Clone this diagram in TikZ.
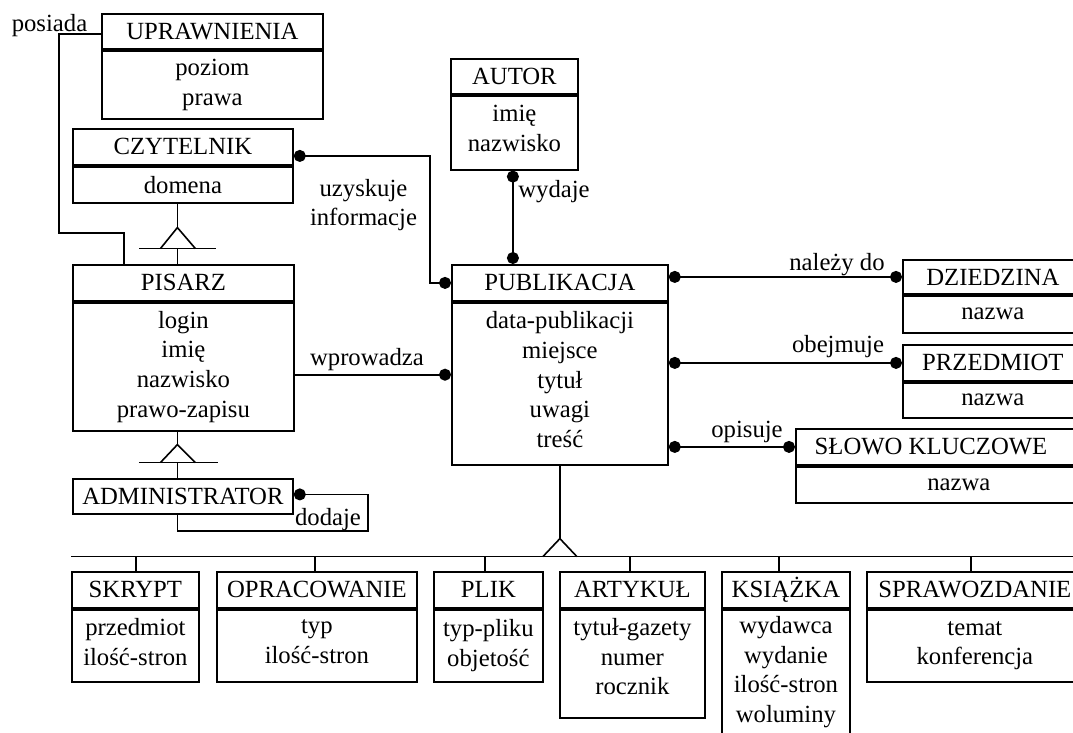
\documentclass[tikz,border=0pt]{standalone}
\usepackage{fontspec}
\setmainfont{Liberation Serif}
\usetikzlibrary{arrows.meta}
\newcommand\erfont{\fontsize{24.7}{29.7}\selectfont}
% entity: #1 name, #2 x, #3 y, #4 width, #5 header height, #6 body height,
% #7 title, #8 attributes, #9 lift of the attribute block
\newcommand\erbox[9]{%
  \node[ent, minimum width=#4pt, minimum height=#5pt] (#1h) at (#2,#3) {#7};
  \node[ent, minimum width=#4pt, minimum height=#6pt] (#1b) at (#1h.south west) {};
  \node[lbl] (#1t) at ([yshift=#9pt]#1b.center) {#8};
}
\begin{document}
\begin{tikzpicture}[x=1pt,y=-1pt,
  ent/.style={draw, line width=1.8pt, anchor=north west, inner sep=0pt, align=center, font=\erfont},
  rel/.style={line width=1.6pt},
  lbl/.style={font=\erfont, inner sep=0pt, align=center},
  bothdots/.style={{Circle[length=12pt]}-{Circle[length=12pt]}},
  enddot/.style={-{Circle[length=12pt]}},
  startdot/.style={{Circle[length=12pt]}-},
]
\useasboundingbox (0,0) rectangle (1073,732);
\clip (0,0) rectangle (1073,732);
\fill[white] (0,0) rectangle (1073,732);

% ---- entities ----
\erbox{upr}{101}{13}{221}{35}{68}{UPRAWNIENIA}{poziom\\prawa}{0}
\erbox{czy}{72}{128}{220}{36}{36}{CZYTELNIK}{domena}{0}
\erbox{pis}{72}{264}{221}{36}{128}{PISARZ}{login\\imię\\nazwisko\\prawo-zapisu}{0}
\node[ent, minimum width=220pt, minimum height=35pt] (adm) at (72,478) {ADMINISTRATOR};
\erbox{aut}{450}{58}{127}{35}{74}{AUTOR}{imię\\nazwisko}{4}
\erbox{pub}{451}{264}{216}{36}{162}{PUBLIKACJA}{data-publikacji\\miejsce\\tytuł\\uwagi\\treść}{4}
\erbox{dz}{902}{259}{180}{34}{37}{DZIEDZINA}{nazwa}{0}
\erbox{prz}{902}{344}{180}{36}{35}{PRZEDMIOT}{nazwa}{0}
\erbox{sk}{795}{428}{326}{36}{36}{}{nazwa}{0}
\node[lbl] (skname) at (931,446) {SŁOWO KLUCZOWE};

% subtypes of PUBLIKACJA
\erbox{skr}{71}{571}{127}{36}{72}{SKRYPT}{przedmiot\\ilość-stron}{4}
\erbox{opr}{216}{571}{200}{36}{72}{OPRACOWANIE}{typ\\ilość-stron}{4}
\erbox{plik}{433}{571}{109}{36}{72}{PLIK}{typ-pliku\\objetość}{0}
\erbox{art}{559}{571}{145}{36}{108}{ARTYKUŁ}{tytuł-gazety\\numer\\rocznik}{7}
\erbox{ksi}{721}{571}{128}{36}{133}{KSIĄŻKA}{wydawca\\wydanie\\ilość-stron\\woluminy}{4}
\erbox{spr}{866}{571}{216}{36}{72}{SPRAWOZDANIE}{temat\\konferencja}{0}

% ---- relationships ----
% posiada
\draw[rel] ([yshift=-2.5pt]uprh.west) -| (59,233) -| ([xshift=-59.5pt]pish.north);
\node[lbl, anchor=base] (lpos) at (49.5,31) {posiada};

% uzyskuje informacje
\draw[rel, bothdots] ([yshift=-9pt]czyh.east) -| ([xshift=-21pt]pubh.west) -- (pubh.west);
\node[lbl] (luzy) at (363.5,205) {uzyskuje\\informacje};

% wydaje
\coordinate (wyd) at ([xshift=-1.5pt]autb.south);
\draw[rel, bothdots] (wyd) -- (wyd |- pubh.north);
\node[lbl, anchor=base] (lwyd) at (554,197) {wydaje};

% wprowadza
\coordinate (wpr) at ([yshift=-8pt]pisb.east);
\draw[rel, enddot] (wpr) -- (wpr -| pubb.west);
\node[lbl, anchor=base] (lwpr) at (367,365) {wprowadza};

% należy do / obejmuje / opisuje
\draw[rel, bothdots] (pubh.east |- dzh.west) -- (dzh.west);
\node[lbl, anchor=base] (lnal) at (837,270) {należy do};
\draw[rel, bothdots] (pubb.east |- przh.west) -- (przh.west);
\node[lbl, anchor=base] (lobe) at (838,352) {obejmuje};
\draw[rel, bothdots] (pubb.east |- skh.west) -- (skh.west);
\node[lbl, anchor=base] (lopi) at (747,437) {opisuje};

% dodaje (recursive)
\draw[rel, startdot] ([yshift=2pt]adm.east) -| (368,531) -| ([xshift=-5.5pt]adm.south);
\node[lbl, anchor=base] (ldod) at (328,525) {dodaje};

% ---- generalisations ----
% CZYTELNIK <- PISARZ
\draw[rel] ([xshift=-5.5pt]czyb.south) -- ++(0,24) coordinate (g1a);
\draw[rel] ([shift={(-17,21)}]g1a) -- (g1a) -- ([shift={(18,21)}]g1a);
\draw[rel] ([shift={(-38,21)}]g1a) -- ([shift={(39,21)}]g1a);
\draw[rel] ([shift={(0,21)}]g1a) -- ([xshift=-6pt]pish.north);

% PISARZ <- ADMINISTRATOR
\draw[rel] ([xshift=-6pt]pisb.south) -- ++(0,13) coordinate (g2a);
\draw[rel] ([shift={(-17,18)}]g2a) -- (g2a) -- ([shift={(18,18)}]g2a);
\draw[rel] ([shift={(-38.5,18)}]g2a) -- ([shift={(40.5,18)}]g2a);
\draw[rel] ([shift={(0,18)}]g2a) -- ([xshift=-5.5pt]adm.north);

% PUBLIKACJA <- subtypes
\draw[rel] (pubb.south) -- ++(0,73) coordinate (g3a);
\draw[rel] ([shift={(-17,18)}]g3a) -- (g3a) -- ([shift={(17,18)}]g3a);
\coordinate (bus) at ([shift={(0,18)}]g3a);
\draw[rel] (bus -| skrh.west) -- (bus -| sprh.east);
\foreach \n/\d in {skrh/0.5, oprh/-2, plikh/-3.5, arth/-2.5, ksih/-7, sprh/-4} {
  \coordinate (stm) at ([xshift=\d pt]\n.north);
  \draw[rel] (stm) -- (stm |- bus);
}
\end{tikzpicture}
\end{document}
